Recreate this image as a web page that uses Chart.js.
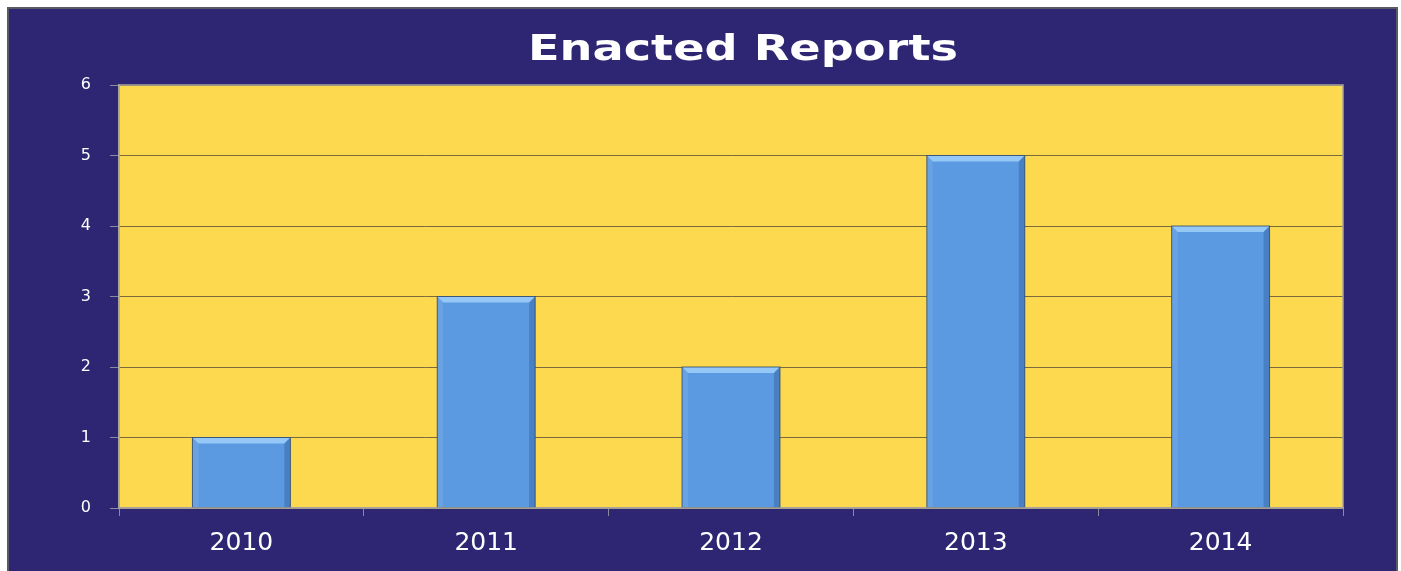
<!DOCTYPE html>
<html>
<head>
<meta charset="utf-8">
<script src="https://cdn.jsdelivr.net/npm/chart.js@4/dist/chart.umd.min.js"></script>
<style>
  html, body { margin: 0; padding: 0; background: #ffffff; }
  body { width: 1401px; height: 571px; position: relative; overflow: hidden; }
  #frame {
    position: absolute; left: 7px; top: 7px; width: 1387px; height: 570px;
    background: #2e2673; border: 2px solid #5a5a66; border-bottom: none;
  }
  #chart { position: absolute; left: 0; top: 0; }
</style>
</head>
<body>
<div id="frame"></div>
<canvas id="chart" width="1401" height="571"></canvas>
<script>
const years = ["2010", "2011", "2012", "2013", "2014"];
const reports = [1, 3, 2, 5, 4];
const yTicks = [0, 1, 2, 3, 4, 5, 6];
const titleText = "Enacted Reports";

// yellow plot area, drawn under the bars; light border on top
const plotArea = {
  id: "plotArea",
  beforeDraw(chart) {
    const { ctx, chartArea: a } = chart;
    ctx.save();
    ctx.fillStyle = "#fdd94f";
    ctx.fillRect(a.left, a.top, a.right - a.left, a.bottom - a.top);
    ctx.restore();
  },
  afterDraw(chart) {
    const { ctx, chartArea: a } = chart;
    ctx.save();
    ctx.strokeStyle = "#a9a59a";
    ctx.lineWidth = 1.5;
    ctx.strokeRect(a.left, a.top, a.right - a.left, a.bottom - a.top);
    ctx.restore();
  }
};

// the title in the original is stretched wide, so draw it by hand
const wideTitle = {
  id: "wideTitle",
  afterDraw(chart) {
    const ctx = chart.ctx;
    ctx.save();
    ctx.font = "bold 36px 'DejaVu Sans'";
    ctx.fillStyle = "#ffffff";
    ctx.textAlign = "center";
    ctx.textBaseline = "alphabetic";
    const sx = 430 / ctx.measureText(titleText).width;
    ctx.translate(743, 60);
    ctx.scale(sx, 1);
    ctx.fillText(titleText, 0, 0);
    ctx.restore();
  }
};

// simple bevel on each bar
const bevel = {
  id: "bevel",
  afterDatasetsDraw(chart) {
    const ctx = chart.ctx;
    chart.getDatasetMeta(0).data.forEach((bar) => {
      const w = bar.width, l = bar.x - w / 2, r = bar.x + w / 2;
      const t = bar.y, b = bar.base, e = 6;
      ctx.save();
      ctx.fillStyle = "rgba(170,215,255,0.75)";
      ctx.beginPath();
      ctx.moveTo(l, t); ctx.lineTo(r, t); ctx.lineTo(r - e, t + e); ctx.lineTo(l + e, t + e);
      ctx.closePath(); ctx.fill();
      ctx.fillStyle = "rgba(40,80,140,0.35)";
      ctx.beginPath();
      ctx.moveTo(r, t); ctx.lineTo(r, b); ctx.lineTo(r - e, b); ctx.lineTo(r - e, t + e);
      ctx.closePath(); ctx.fill();
      ctx.fillStyle = "rgba(120,170,230,0.5)";
      ctx.beginPath();
      ctx.moveTo(l, t); ctx.lineTo(l + e, t + e); ctx.lineTo(l + e, b); ctx.lineTo(l, b);
      ctx.closePath(); ctx.fill();
      ctx.strokeStyle = "rgba(40,70,110,0.8)";
      ctx.lineWidth = 1;
      ctx.strokeRect(l, t, w, b - t);
      ctx.restore();
    });
  }
};

new Chart(document.getElementById("chart").getContext("2d"), {
  type: "bar",
  data: {
    labels: years,
    datasets: [{
      data: reports,
      backgroundColor: "#5b9ae0",
      borderWidth: 0,
      categoryPercentage: 1,
      barPercentage: 0.4
    }]
  },
  options: {
    responsive: false,
    animation: false,
    layout: { padding: { left: 79, right: 58, top: 85, bottom: 3 } },
    plugins: {
      legend: { display: false },
      tooltip: { enabled: false },
      title: { display: false }
    },
    scales: {
      x: {
        afterFit(scale) { scale.height = 60; },
        grid: { drawOnChartArea: false, drawTicks: true, tickLength: 8, tickColor: "#8a8aa0" },
        border: { color: "#a9a59a", width: 1.5 },
        ticks: {
          color: "#ffffff",
          padding: 12,
          font: { family: "DejaVu Sans", size: 25 }
        }
      },
      y: {
        min: 0,
        max: 6,
        afterFit(scale) { scale.width = 40; },
        afterBuildTicks(scale) { scale.ticks = yTicks.map((v) => ({ value: v })); },
        grid: { color: "#7b6b3c", lineWidth: 1, drawTicks: true, tickLength: 9, tickColor: "#8a8aa0" },
        border: { color: "#a9a59a", width: 1.5 },
        ticks: {
          color: "#ffffff",
          padding: 19,
          font: { family: "DejaVu Sans", size: 16 }
        }
      }
    }
  },
  plugins: [plotArea, bevel, wideTitle]
});
</script>
</body>
</html>
